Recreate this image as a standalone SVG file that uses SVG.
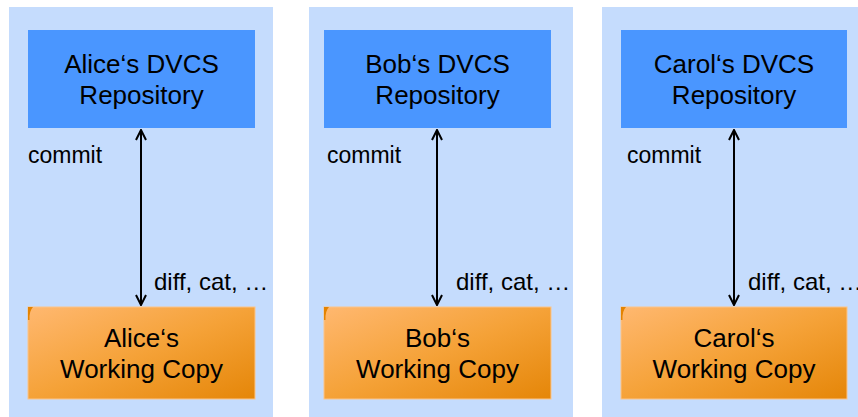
<svg xmlns="http://www.w3.org/2000/svg" width="858" height="417" viewBox="0 0 858 417">
  <defs>
    <linearGradient id="og" x1="0" y1="0" x2="1" y2="1">
      <stop offset="0" stop-color="#FFB870"/>
      <stop offset="0.5" stop-color="#F5A238"/>
      <stop offset="1" stop-color="#E58608"/>
    </linearGradient>
    <marker id="ah" viewBox="0 0 12 12" refX="11" refY="6" markerWidth="12" markerHeight="12" markerUnits="userSpaceOnUse" orient="auto-start-reverse">
      <path d="M1,1 L11,6 L1,11" fill="none" stroke="#000" stroke-width="2"/>
    </marker>
    <style>
      .panel { fill: #C5DCFD; }
      .repo { fill: #4A96FF; }
      .wc { fill: url(#og); stroke: #FCC48A; stroke-width: 1; }
      .fold { fill: #E48300; }
      .big { font-family: "Liberation Sans", Arial, sans-serif; font-size: 26px; fill: #000; text-anchor: middle; }
      .lbl { font-family: "Liberation Sans", Arial, sans-serif; font-size: 23px; fill: #000; }
      .lbl2 { font-family: "Liberation Sans", Arial, sans-serif; font-size: 24px; fill: #000; }
      .conn { stroke: #000; stroke-width: 2; fill: none; marker-start: url(#ah); marker-end: url(#ah); }
    </style>
  </defs>
  <rect width="858" height="417" fill="#FFFFFF"/>

  <g id="panels">
    <rect class="panel" x="9" y="7" width="264" height="410"/>
    <rect class="panel" x="309" y="7" width="264" height="410"/>
    <rect class="panel" x="602" y="7" width="264" height="410"/>
  </g>

  <g id="alice-repo">
    <rect class="repo" x="28" y="30" width="227" height="98"/>
    <text class="big" x="141.5" y="73">Alice‘s DVCS</text>
    <text class="big" x="141.5" y="104">Repository</text>
  </g>
  <g id="alice-wc">
    <rect class="wc" x="28" y="307" width="227" height="92"/>
    <path class="fold" d="M28,307 L33,307 Q29,311 29.5,320 L28,320 Z"/>
    <text class="big" x="141.5" y="347">Alice‘s</text>
    <text class="big" x="141.5" y="378">Working Copy</text>
  </g>

  <g id="bob-repo">
    <rect class="repo" x="324" y="30" width="227" height="98"/>
    <text class="big" x="437.5" y="73">Bob‘s DVCS</text>
    <text class="big" x="437.5" y="104">Repository</text>
  </g>
  <g id="bob-wc">
    <rect class="wc" x="324" y="307" width="227" height="92"/>
    <path class="fold" d="M324,307 L329,307 Q325,311 325.5,320 L324,320 Z"/>
    <text class="big" x="437.5" y="347">Bob‘s</text>
    <text class="big" x="437.5" y="378">Working Copy</text>
  </g>

  <g id="carol-repo">
    <rect class="repo" x="621" y="30" width="226" height="98"/>
    <text class="big" x="734" y="73">Carol‘s DVCS</text>
    <text class="big" x="734" y="104">Repository</text>
  </g>
  <g id="carol-wc">
    <rect class="wc" x="621" y="307" width="226" height="92"/>
    <path class="fold" d="M621,307 L626,307 Q622,311 622.5,320 L621,320 Z"/>
    <text class="big" x="734" y="347">Carol‘s</text>
    <text class="big" x="734" y="378">Working Copy</text>
  </g>

  <g id="connectors">
    <line class="conn" x1="141" y1="130" x2="141" y2="305"/>
    <line class="conn" x1="437" y1="130" x2="437" y2="305"/>
    <line class="conn" x1="734" y1="130" x2="734" y2="305"/>
  </g>

  <g id="labels">
    <text class="lbl" x="28" y="163">commit</text>
    <text class="lbl2" x="154" y="290">diff, cat, …</text>
    <text class="lbl" x="327" y="163">commit</text>
    <text class="lbl2" x="456" y="290">diff, cat, …</text>
    <text class="lbl" x="627" y="163">commit</text>
    <text class="lbl2" x="748" y="290">diff, cat, …</text>
  </g>
</svg>
